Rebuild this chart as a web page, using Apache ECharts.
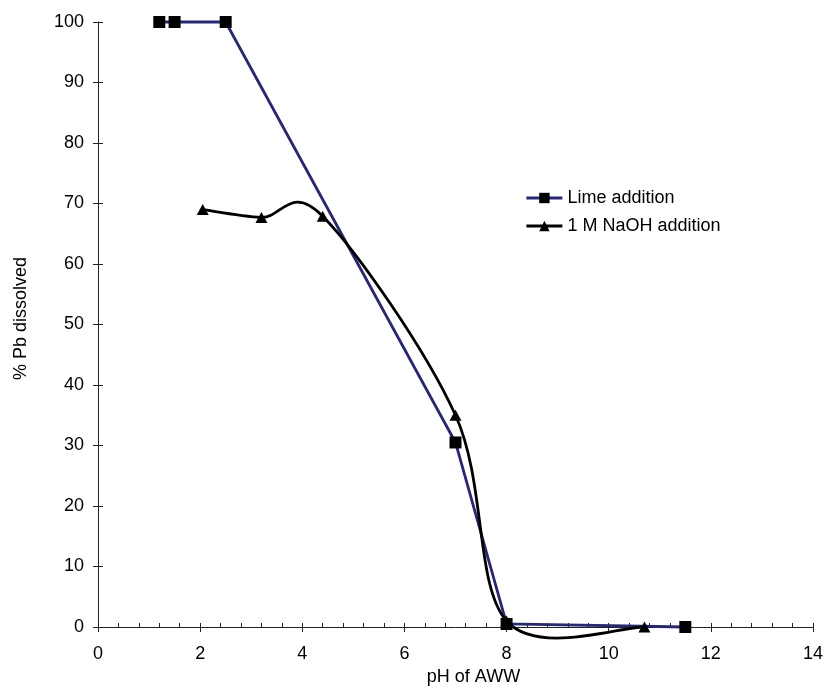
<!DOCTYPE html>
<html><head><meta charset="utf-8">
<script src="https://cdn.jsdelivr.net/npm/echarts@6/dist/echarts.min.js"></script>
<style>html,body{margin:0;padding:0;background:#fff}#c{width:826px;height:691px}</style>
</head><body><div id="c"></div>
<script>
// Data
const limePH = [1.2, 1.5, 2.5, 7.0, 8.0, 11.5];
const limePb = [100, 100, 100, 30.5, 0.5, 0];
const naohPH = [2.05, 3.2, 4.4, 7.0, 8.0, 10.7];
const naohPb = [69, 67.7, 67.9, 35, 1.0, 0];
const seriesNames = ['Lime addition', '1 M NaOH addition'];
const xMin = 0, xMax = 14, xStep = 2;
const yMin = 0, yMax = 100, yStep = 10;

const FONT = 'Liberation Sans, Arial, sans-serif';
const AX = '#222';
const LW = 2.8;
const chart = echarts.init(document.getElementById('c'), null, {renderer: 'canvas'});

const limeData = limePH.map((x, i) => [x, limePb[i]]);
const naohData = naohPH.map((x, i) => [x, naohPb[i]]);

// Excel-like smoothed line drawn through the chart's own coordinate system
function splineItem(params, api) {
  if (params.dataIndex !== 0) return null;
  const pts = naohPH.map((x, i) => api.coord([x, naohPb[i]]));
  const n = pts.length;
  const children = [];
  for (let i = 0; i < n - 1; i++) {
    const p0 = pts[Math.max(i - 1, 0)], p1 = pts[i], p2 = pts[i + 1], p3 = pts[Math.min(i + 2, n - 1)];
    children.push({
      type: 'bezierCurve',
      shape: {
        x1: p1[0], y1: p1[1], x2: p2[0], y2: p2[1],
        cpx1: p1[0] + (p2[0] - p0[0]) / 6, cpy1: p1[1] + (p2[1] - p0[1]) / 6,
        cpx2: p2[0] - (p3[0] - p1[0]) / 6, cpy2: p2[1] - (p3[1] - p1[1]) / 6
      },
      style: {stroke: '#000', lineWidth: LW, fill: 'none'}
    });
  }
  return {type: 'group', children};
}

const option = {
  animation: false,
  backgroundColor: '#fff',
  textStyle: {fontFamily: FONT},
  grid: {left: 98, right: 12, top: 22, bottom: 59, containLabel: false},
  legend: {
    orient: 'vertical', left: 520, top: 184,
    itemWidth: 36, itemHeight: 13, itemGap: 10,
    textStyle: {fontFamily: FONT, fontSize: 18, color: '#000'},
    data: [
      {name: seriesNames[0], lineStyle: {color: '#26267A', width: LW, opacity: 1}},
      {name: seriesNames[1], lineStyle: {color: '#000', width: LW, opacity: 1}}
    ]
  },
  xAxis: [
    {
      type: 'value', min: xMin, max: xMax, interval: xStep, position: 'bottom',
      name: 'pH of AWW', nameLocation: 'middle', nameGap: 41,
      nameTextStyle: {fontFamily: FONT, fontSize: 18, color: '#000', padding: [0, 0, 0, 36]},
      axisLine: {show: true, onZero: false, lineStyle: {color: AX, width: 1}},
      axisTick: {show: true, inside: false, length: 5, lineStyle: {color: AX}},
      axisLabel: {fontFamily: FONT, fontSize: 18, color: '#000', margin: 18},
      splitLine: {show: false}
    },
    {
      type: 'value', min: xMin, max: xMax, interval: xStep, position: 'bottom',
      axisLine: {show: false},
      axisTick: {show: true, inside: true, length: 4, lineStyle: {color: AX}},
      minorTick: {show: true, splitNumber: 5, length: 4, lineStyle: {color: AX}},
      axisLabel: {show: false},
      splitLine: {show: false}
    }
  ],
  yAxis: [
    {
      type: 'value', min: yMin, max: yMax, interval: yStep, position: 'left',
      name: '% Pb dissolved', nameLocation: 'middle', nameGap: 68, nameRotate: 90,
      nameTextStyle: {fontFamily: FONT, fontSize: 18, color: '#000', padding: [0, 0, 0, 12]},
      axisLine: {show: true, onZero: false, lineStyle: {color: AX, width: 1}},
      axisTick: {show: true, inside: false, length: 5, lineStyle: {color: AX}},
      axisLabel: {fontFamily: FONT, fontSize: 18, color: '#000', margin: 14},
      splitLine: {show: false}
    },
    {
      type: 'value', min: yMin, max: yMax, interval: yStep, position: 'left',
      axisLine: {show: false},
      axisTick: {show: true, inside: true, length: 5, lineStyle: {color: AX}},
      axisLabel: {show: false},
      splitLine: {show: false}
    }
  ],
  series: [
    {
      name: seriesNames[0], type: 'line', data: limeData,
      xAxisIndex: 0, yAxisIndex: 0,
      symbol: 'rect', symbolSize: 12, showAllSymbol: true,
      lineStyle: {color: '#26267A', width: LW},
      itemStyle: {color: '#000', borderWidth: 0},
      clip: false, z: 2
    },
    {
      name: 'naoh-curve', type: 'custom', data: naohData,
      xAxisIndex: 0, yAxisIndex: 0,
      encode: {x: 0, y: 1}, renderItem: splineItem, silent: true, clip: false, z: 3
    },
    {
      name: seriesNames[1], type: 'line', data: naohData,
      xAxisIndex: 0, yAxisIndex: 0,
      symbol: 'triangle', symbolSize: [12, 11], showAllSymbol: true,
      lineStyle: {color: '#000', width: 0, opacity: 0},
      itemStyle: {color: '#000', borderWidth: 0},
      clip: false, z: 4
    }
  ]
};
chart.setOption(option);
</script>
</body></html>
